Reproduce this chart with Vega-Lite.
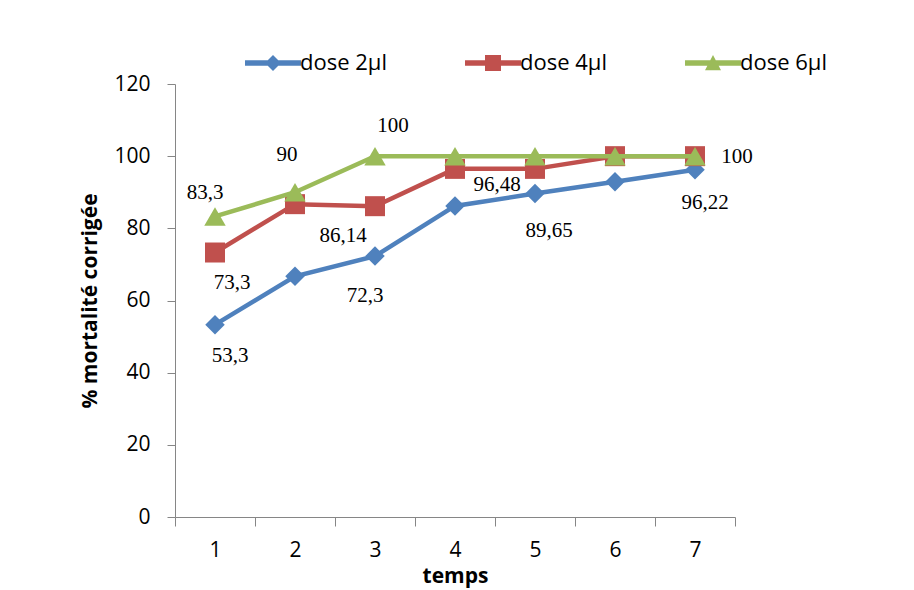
{
  "$schema": "https://vega.github.io/schema/vega-lite/v6.json",
  "width": 560,
  "height": 433,
  "autosize": {"type": "none"},
  "padding": {"left": 175, "top": 84, "right": 179, "bottom": 73},
  "background": "white",
  "config": {"view": {"stroke": null}, "font": "Open Sans"},
  "data": {
    "values": [
      {"serie": "dose 2µl", "temps": 1, "value": 53.3, "label": "53,3"},
      {"serie": "dose 2µl", "temps": 2, "value": 66.7, "label": "66,7"},
      {"serie": "dose 2µl", "temps": 3, "value": 72.3, "label": "72,3"},
      {"serie": "dose 2µl", "temps": 4, "value": 86.2, "label": "86,2"},
      {"serie": "dose 2µl", "temps": 5, "value": 89.65, "label": "89,65"},
      {"serie": "dose 2µl", "temps": 6, "value": 92.9, "label": "92,9"},
      {"serie": "dose 2µl", "temps": 7, "value": 96.22, "label": "96,22"},
      {"serie": "dose 4µl", "temps": 1, "value": 73.3, "label": "73,3"},
      {"serie": "dose 4µl", "temps": 2, "value": 86.7, "label": "86,7"},
      {"serie": "dose 4µl", "temps": 3, "value": 86.14, "label": "86,14"},
      {"serie": "dose 4µl", "temps": 4, "value": 96.48, "label": "96,48"},
      {"serie": "dose 4µl", "temps": 5, "value": 96.48, "label": "96,48"},
      {"serie": "dose 4µl", "temps": 6, "value": 100, "label": "100"},
      {"serie": "dose 4µl", "temps": 7, "value": 100, "label": "100"},
      {"serie": "dose 6µl", "temps": 1, "value": 83.3, "label": "83,3"},
      {"serie": "dose 6µl", "temps": 2, "value": 90, "label": "90"},
      {"serie": "dose 6µl", "temps": 3, "value": 100, "label": "100"},
      {"serie": "dose 6µl", "temps": 4, "value": 100, "label": "100"},
      {"serie": "dose 6µl", "temps": 5, "value": 100, "label": "100"},
      {"serie": "dose 6µl", "temps": 6, "value": 100, "label": "100"},
      {"serie": "dose 6µl", "temps": 7, "value": 100, "label": "100"}
    ]
  },
  "encoding": {
    "x": {
      "field": "temps",
      "type": "ordinal",
      "scale": {"paddingInner": 0, "paddingOuter": 0},
      "axis": {
        "title": "temps",
        "titleFont": "Open Sans",
        "titleFontSize": 21,
        "titleFontWeight": "bold",
        "titleColor": "black",
        "titlePadding": 5,
        "labelAngle": 0,
        "labelFont": "Open Sans",
        "labelFontSize": 21,
        "labelColor": "black",
        "labelPadding": 13,
        "tickBand": "extent",
        "tickSize": 9,
        "tickColor": "#868686",
        "domainColor": "#868686",
        "grid": false
      }
    },
    "y": {
      "field": "value",
      "type": "quantitative",
      "scale": {"domain": [0, 120]},
      "axis": {
        "title": "% mortalité corrigée",
        "titleFont": "Open Sans",
        "titleFontSize": 21,
        "titleFontWeight": "bold",
        "titleColor": "black",
        "titlePadding": 13,
        "values": [0, 20, 40, 60, 80, 100, 120],
        "labelFont": "Open Sans",
        "labelFontSize": 21,
        "labelColor": "black",
        "labelPadding": 17,
        "tickSize": 8,
        "tickColor": "#868686",
        "domainColor": "#868686",
        "grid": false
      }
    },
    "color": {
      "field": "serie",
      "type": "nominal",
      "scale": {
        "domain": ["dose 2µl", "dose 4µl", "dose 6µl"],
        "range": ["#4F81BD", "#C0504D", "#9BBB59"]
      },
      "legend": {
        "orient": "none",
        "legendX": 87,
        "legendY": -32,
        "direction": "horizontal",
        "title": null,
        "labelFont": "Open Sans",
        "labelFontSize": 22,
        "labelColor": "black",
        "symbolSize": 256,
        "labelOffset": 16,
        "columnPadding": 78,
        "encode": {
          "symbols": {
            "update": {
              "shape": {"signal": "datum.index === 0 ? 'M-3.5,-0.33H3.5V0.33H-3.5Z M0,-1L1,0L0,1L-1,0Z' : datum.index === 1 ? 'M-3.5,-0.33H3.5V0.33H-3.5Z M-1,-1H1V1H-1Z' : 'M-3.5,-0.33H3.5V0.33H-3.5Z M0,-1L1,0.9L-1,0.9Z'"},
              "fill": {"scale": "color", "field": "value"},
              "fillOpacity": {"value": 1},
              "opacity": {"value": 1},
              "strokeWidth": {"value": 0}
            }
          }
        }
      }
    }
  },
  "layer": [
    {"transform": [{"filter": "datum.serie === 'dose 2µl'"}], "mark": {"type": "line", "strokeWidth": 4.5}},
    {"transform": [{"filter": "datum.serie === 'dose 2µl'"}], "mark": {"type": "point", "shape": "diamond", "filled": true, "size": 380, "opacity": 1}},
    {"transform": [{"filter": "datum.serie === 'dose 4µl'"}], "mark": {"type": "line", "strokeWidth": 4.5}},
    {"transform": [{"filter": "datum.serie === 'dose 4µl'"}], "mark": {"type": "point", "shape": "square", "filled": true, "size": 400, "opacity": 1}},
    {"transform": [{"filter": "datum.serie === 'dose 6µl'"}], "mark": {"type": "line", "strokeWidth": 4.5}},
    {"transform": [{"filter": "datum.serie === 'dose 6µl'"}], "mark": {"type": "point", "shape": "triangle-up", "filled": true, "size": 460, "opacity": 1}},
    {"transform": [{"filter": "datum.serie === 'dose 6µl' && datum.temps === 1"}], "mark": {"type": "text", "font": "Liberation Serif", "fontSize": 21, "dx": -10, "dy": -23}, "encoding": {"text": {"field": "label"}, "color": {"value": "black"}}},
    {"transform": [{"filter": "datum.serie === 'dose 6µl' && datum.temps === 2"}], "mark": {"type": "text", "font": "Liberation Serif", "fontSize": 21, "dx": -8, "dy": -37}, "encoding": {"text": {"field": "label"}, "color": {"value": "black"}}},
    {"transform": [{"filter": "datum.serie === 'dose 6µl' && datum.temps === 3"}], "mark": {"type": "text", "font": "Liberation Serif", "fontSize": 21, "dx": 18, "dy": -30}, "encoding": {"text": {"field": "label"}, "color": {"value": "black"}}},
    {"transform": [{"filter": "datum.serie === 'dose 6µl' && datum.temps === 7"}], "mark": {"type": "text", "font": "Liberation Serif", "fontSize": 21, "dx": 42, "dy": 1}, "encoding": {"text": {"field": "label"}, "color": {"value": "black"}}},
    {"transform": [{"filter": "datum.serie === 'dose 4µl' && datum.temps === 1"}], "mark": {"type": "text", "font": "Liberation Serif", "fontSize": 21, "dx": 17, "dy": 30}, "encoding": {"text": {"field": "label"}, "color": {"value": "black"}}},
    {"transform": [{"filter": "datum.serie === 'dose 4µl' && datum.temps === 3"}], "mark": {"type": "text", "font": "Liberation Serif", "fontSize": 21, "dx": -32, "dy": 30}, "encoding": {"text": {"field": "label"}, "color": {"value": "black"}}},
    {"transform": [{"filter": "datum.serie === 'dose 4µl' && datum.temps === 5"}], "mark": {"type": "text", "font": "Liberation Serif", "fontSize": 21, "dx": -38, "dy": 16}, "encoding": {"text": {"field": "label"}, "color": {"value": "black"}}},
    {"transform": [{"filter": "datum.serie === 'dose 2µl' && datum.temps === 1"}], "mark": {"type": "text", "font": "Liberation Serif", "fontSize": 21, "dx": 15, "dy": 31}, "encoding": {"text": {"field": "label"}, "color": {"value": "black"}}},
    {"transform": [{"filter": "datum.serie === 'dose 2µl' && datum.temps === 3"}], "mark": {"type": "text", "font": "Liberation Serif", "fontSize": 21, "dx": -10, "dy": 40}, "encoding": {"text": {"field": "label"}, "color": {"value": "black"}}},
    {"transform": [{"filter": "datum.serie === 'dose 2µl' && datum.temps === 5"}], "mark": {"type": "text", "font": "Liberation Serif", "fontSize": 21, "dx": 14, "dy": 37}, "encoding": {"text": {"field": "label"}, "color": {"value": "black"}}},
    {"transform": [{"filter": "datum.serie === 'dose 2µl' && datum.temps === 7"}], "mark": {"type": "text", "font": "Liberation Serif", "fontSize": 21, "dx": 10, "dy": 33}, "encoding": {"text": {"field": "label"}, "color": {"value": "black"}}}
  ]
}
